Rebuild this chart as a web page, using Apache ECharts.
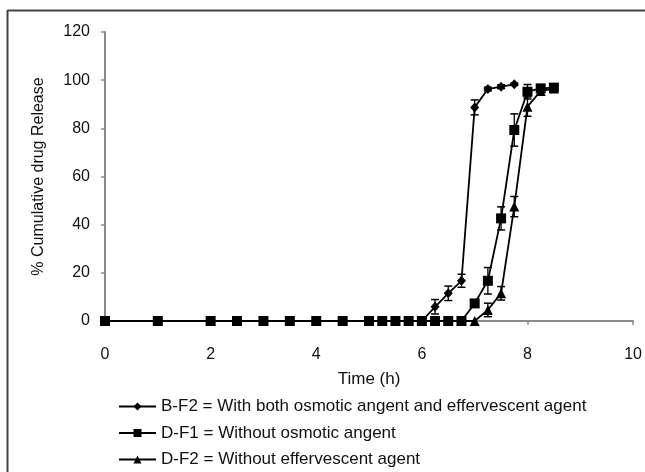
<!DOCTYPE html>
<html><head><meta charset="utf-8">
<script src="https://cdn.jsdelivr.net/npm/echarts@6/dist/echarts.min.js"></script>
<style>html,body{margin:0;padding:0;background:#fff}#c{width:645px;height:472px}</style>
</head><body><div id="c"></div>
<script>
const time = [0,1,2,2.5,3,3.5,4,4.5,5,5.25,5.5,5.75,6,6.25,6.5,6.75,7,7.25,7.5,7.75,8,8.25,8.5];
const bf2 = [0,0,0,0,0,0,0,0,0,0,0,0,0,5.9,11.5,16.7,88.7,96.3,97.3,98.3];
const bf2Err = [0,0,0,0,0,0,0,0,0,0,0,0,0,3,3,2.7,3.1,0.8,0.8,0.5];
const df1 = [0,0,0,0,0,0,0,0,0,0,0,0,0,0,0,0,7.3,16.7,42.6,79.3,95.2,96.6,96.9];
const df1Err = [0,0,0,0,0,0,0,0,0,0,0,0,0,0,0,0,0,5.5,4.8,6.7,3,0,0];
const df2 = [0,0,0,0,0,0,0,0,0,0,0,0,0,0,0,0,0,4.6,11.5,47.5,89,95.5,96.5];
const df2Err = [0,0,0,0,0,0,0,0,0,0,0,0,0,0,0,0,0,2.8,2.8,4.2,4,0,0];
const names = ['B-F2 = With both osmotic angent and effervescent agent','D-F1 = Without osmotic angent','D-F2 = Without effervescent agent'];
const xTicks = [0,2,4,6,8,10];
const yTicks = [0,20,40,60,80,100,120];

const FONT = 'Liberation Sans, Arial, sans-serif';
function pairs(v){ return v.map((y,i)=>[time[i],y]); }
function errData(v,e){ return v.map((y,i)=>[time[i],y,e[i]]).filter(d=>d[2]>0); }
function errSeries(v,e){
  return {
    type:'custom', data: errData(v,e), silent:true, z:1,
    renderItem:function(params, api){
      const x=api.value(0), y=api.value(1), er=api.value(2);
      const hi=api.coord([x,y+er]), lo=api.coord([x,y-er]);
      const w=4;
      return {type:'group', children:[
        {type:'line', shape:{x1:hi[0],y1:hi[1],x2:lo[0],y2:lo[1]}, style:{stroke:'#000',lineWidth:1.3}},
        {type:'line', shape:{x1:hi[0]-w,y1:hi[1],x2:hi[0]+w,y2:hi[1]}, style:{stroke:'#000',lineWidth:1.5}},
        {type:'line', shape:{x1:lo[0]-w,y1:lo[1],x2:lo[0]+w,y2:lo[1]}, style:{stroke:'#000',lineWidth:1.5}}
      ]};
    }
  };
}
const chart = echarts.init(document.getElementById('c'), null, {renderer:'canvas'});
chart.setOption({
  animation:false,
  backgroundColor:'#fff',
  textStyle:{fontFamily:FONT},
  grid:{left:105, top:32, right:9, bottom:151, containLabel:false},
  xAxis:{type:'value', min:0, max:10, interval:2,
    name:'Time (h)', nameLocation:'middle', nameGap:50,
    nameTextStyle:{fontSize:17, color:'#111', fontFamily:FONT},
    axisLine:{lineStyle:{color:'#8a8a8a', width:2}},
    axisTick:{show:true, inside:false, length:4, lineStyle:{color:'#8a8a8a', width:1.5}},
    axisLabel:{fontSize:16, color:'#111', margin:26, fontFamily:FONT,
      formatter:v=> xTicks.includes(v)? String(v):''},
    splitLine:{show:false}},
  yAxis:{type:'value', min:0, max:120, interval:20,
    name:'% Cumulative drug Release', nameLocation:'middle', nameGap:58,
    nameTextStyle:{fontSize:16, color:'#111', fontFamily:FONT},
    axisLine:{show:true, lineStyle:{color:'#8a8a8a', width:2}},
    axisTick:{show:true, inside:false, length:4, lineStyle:{color:'#8a8a8a', width:1.5}},
    axisLabel:{fontSize:16, color:'#111', margin:15, fontFamily:FONT,
      formatter:v=> yTicks.includes(v)? String(v):''},
    splitLine:{show:false}},
  legend:{orient:'vertical', left:118, top:397, bottom:0, padding:0, itemGap:7.5, itemWidth:37, itemHeight:10,
    textStyle:{fontSize:17, color:'#111', fontFamily:FONT, lineHeight:19},
    data:names},
  graphic:[
    {type:'line', shape:{x1:7.5,y1:10.5,x2:645,y2:10.5}, style:{stroke:'#444',lineWidth:2}},
    {type:'line', shape:{x1:7.5,y1:10,x2:7.5,y2:472}, style:{stroke:'#444',lineWidth:2}}
  ],
  series:[
    {name:names[0], type:'line', data:pairs(bf2), symbol:'diamond', symbolSize:[9,10], z:3,
      lineStyle:{color:'#000', width:1.8}, itemStyle:{color:'#000'}},
    {name:names[1], type:'line', data:pairs(df1), symbol:'rect', symbolSize:10, z:3,
      lineStyle:{color:'#000', width:1.8}, itemStyle:{color:'#000'}},
    {name:names[2], type:'line', data:pairs(df2), symbol:'triangle', symbolSize:[10,10], z:3,
      lineStyle:{color:'#000', width:1.8}, itemStyle:{color:'#000'}},
    errSeries(bf2,bf2Err), errSeries(df1,df1Err), errSeries(df2,df2Err)
  ]
});
</script></body></html>
